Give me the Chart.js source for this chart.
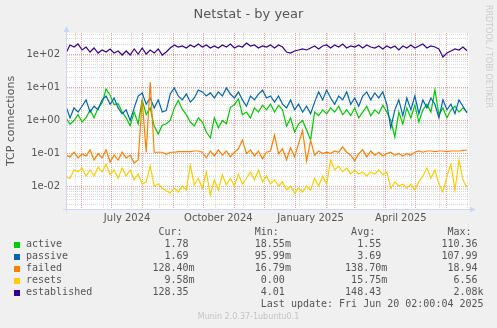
<!DOCTYPE html>
<html>
<head>
<meta charset="utf-8">
<title>Netstat - by year</title>
<script src="https://cdn.jsdelivr.net/npm/chart.js@4.4.1/dist/chart.umd.min.js"></script>
<style>
  html, body { margin: 0; padding: 0; background: #f0f0f0; }
  #graph { position: relative; width: 497px; height: 328px; overflow: hidden; }
  #graph canvas { position: absolute; left: 0; top: 0; }
  #title { position: absolute; left: 0; top: 6px; width: 497px; text-align: center;
           font: 13px "DejaVu Sans"; line-height: 15px; color: #555; }
  #legend { position: absolute; left: 26px; top: 226px; margin: 0;
            font: 10px "DejaVu Sans Mono"; line-height: 12px; color: #555; white-space: pre; }
  .swatch { position: absolute; left: 14px; width: 6px; height: 6px; }
  #version { position: absolute; left: 0; top: 312px; width: 497px; text-align: center;
             font: 8px "DejaVu Sans"; line-height: 10px; color: #c4c4c4; }
  #credit { position: absolute; left: 492px; top: 5px; white-space: nowrap;
            font: 8px "DejaVu Sans"; line-height: 8px; color: #cccccc;
            transform-origin: 0 0; transform: rotate(90deg); }
</style>
</head>
<body>
<div id="graph">
  <canvas id="netstat" width="497" height="328"></canvas>
  <div id="title">Netstat - by year</div>
  <pre id="legend"></pre>
  <div id="version">Munin 2.0.37-1ubuntu0.1</div>
  <div id="credit">RRDTOOL / TOBI OETIKER</div>
</div>
<script>
// one sample every 4 days, day 0 = 17 May 2024
const sampleStepDays = 4;

const active = [
  1.2, 0.78, 1.0, 1.5, 0.9, 1.2, 2.1, 1.2, 2.4, 3.4,
  9.0, 5.8, 3.0, 3.2, 1.8, 1.2, 0.7, 1.8, 0.8, 4.2,
  1.5, 2.4, 0.68, 0.39, 0.72, 0.8, 1.0, 2.4, 4.0, 2.2,
  1.5, 0.9, 0.68, 1.2, 0.9, 0.45, 0.3, 1.2, 0.6, 1.0,
  0.8, 2.5, 3.0, 4.5, 1.5, 1.8, 1.2, 2.4, 1.8, 2.9,
  2.1, 3.1, 1.8, 2.9, 2.1, 0.68, 1.2, 0.45, 0.78, 1.0,
  0.52, 0.26, 1.8, 1.4, 2.1, 1.6, 2.4, 1.8, 2.7, 1.5,
  2.1, 1.4, 2.4, 1.2, 1.8, 2.7, 1.4, 2.1, 1.6, 2.9,
  1.8, 1.0, 0.32, 1.8, 0.78, 2.4, 1.2, 2.9, 0.9, 2.1,
  3.1, 1.8, 8.3, 1.5, 2.4, 1.2, 2.1, 2.7, 1.8, 2.4,
  1.78
];
const passive = [
  2.7, 1.2, 2.4, 1.8, 2.7, 4.2, 1.8, 2.7, 2.1, 4.2,
  5.5, 3.1, 4.8, 2.4, 1.6, 2.1, 1.0, 2.4, 5.5, 6.8,
  3.1, 4.8, 2.4, 4.2, 1.8, 2.0, 6.3, 9.6, 5.5, 4.2,
  6.3, 3.6, 4.8, 8.3, 7.3, 5.5, 6.8, 4.8, 7.3, 5.5,
  9.6, 6.3, 4.8, 7.3, 4.2, 2.7, 5.5, 4.2, 6.3, 8.3,
  4.8, 5.5, 3.6, 5.5, 3.1, 2.4, 4.2, 2.1, 3.1, 1.8,
  2.7, 1.6, 3.6, 7.3, 4.2, 8.3, 4.8, 3.1, 5.5, 4.2,
  7.3, 3.1, 4.8, 2.7, 5.5, 7.3, 4.2, 6.8, 4.8, 7.3,
  3.1, 0.6, 2.1, 4.2, 1.4, 4.8, 2.1, 5.5, 1.6, 4.2,
  2.4, 4.8, 3.1, 1.2, 4.2, 2.1, 3.1, 1.6, 4.2, 2.7,
  1.69
];
const failed = [
  0.09, 0.079, 0.11, 0.074, 0.097, 0.085, 0.13, 0.064, 0.1, 0.074,
  0.13, 0.056, 0.09, 0.064, 0.11, 0.074, 0.09, 0.052, 0.064, 4.2,
  0.11, 14.5, 0.11, 0.11, 0.11, 0.095, 0.11, 0.11, 0.115, 0.115,
  0.115, 0.115, 0.12, 0.12, 0.11, 0.075, 0.12, 0.085, 0.13, 0.09,
  0.12, 0.08, 0.11, 0.14, 0.26, 0.1, 0.13, 0.085, 0.12, 0.07,
  0.11, 0.12, 0.36, 0.1, 0.14, 0.065, 0.15, 0.08, 0.2, 0.5,
  0.06, 0.25, 0.09, 0.12, 0.1, 0.11, 0.1, 0.12, 0.11, 0.16,
  0.11, 0.09, 0.06, 0.1, 0.13, 0.08, 0.12, 0.09, 0.11, 0.085,
  0.1, 0.11, 0.09, 0.1, 0.085, 0.1, 0.09, 0.11, 0.12, 0.11,
  0.12, 0.12, 0.115, 0.12, 0.12, 0.115, 0.12, 0.12, 0.12, 0.125,
  0.1284
];
const resets = [
  0.0196, 0.018, 0.032, 0.028, 0.037, 0.021, 0.032, 0.021, 0.039, 0.028,
  0.048, 0.023, 0.032, 0.018, 0.037, 0.021, 0.032, 0.016, 0.024, 0.012,
  0.014, 0.042, 0.0105, 0.012, 0.009, 0.0075, 0.0065, 0.009, 0.0069, 0.0105,
  0.0079, 0.045, 0.0113, 0.018, 0.009, 0.028, 0.0056, 0.016, 0.0079, 0.023,
  0.0113, 0.018, 0.0105, 0.024, 0.012, 0.018, 0.028, 0.016, 0.032, 0.014,
  0.021, 0.012, 0.016, 0.0105, 0.014, 0.0079, 0.0105, 0.0064, 0.009, 0.0069,
  0.0105, 0.0079, 0.018, 0.0105, 0.021, 0.012, 0.064, 0.032, 0.042, 0.028,
  0.037, 0.024, 0.032, 0.024, 0.028, 0.021, 0.028, 0.024, 0.032, 0.023,
  0.028, 0.009, 0.014, 0.0105, 0.012, 0.009, 0.012, 0.0079, 0.014, 0.021,
  0.037, 0.018, 0.032, 0.012, 0.0069, 0.021, 0.048, 0.0079, 0.064, 0.016,
  0.00958
];
const established = [
  109, 191, 166, 205, 135, 166, 117, 155, 109, 135,
  117, 145, 109, 126, 95, 126, 95, 145, 102, 155,
  102, 135, 109, 145, 95, 117, 155, 191, 166, 178,
  155, 191, 166, 205, 166, 191, 155, 178, 155, 191,
  166, 205, 155, 178, 166, 219, 178, 191, 155, 178,
  166, 191, 155, 191, 166, 117, 109, 126, 135, 145,
  135, 155, 178, 145, 178, 191, 155, 191, 166, 205,
  155, 178, 166, 191, 155, 191, 166, 155, 178, 145,
  178, 155, 178, 135, 178, 155, 191, 155, 178, 205,
  155, 178, 166, 145, 83, 109, 126, 145, 135, 166,
  128.35
];

const seriesNames = ['active', 'passive', 'failed', 'resets', 'established'];
const seriesColors = ['#00cc00', '#0066b3', '#ff8000', '#ffcc00', '#330099'];
const curValues = ['1.78', '1.69', '128.40m', '9.58m', '128.35'];
const minValues = ['18.55m', '95.99m', '16.79m', '0.00', '4.01'];
const avgValues = ['1.55', '3.69', '138.70m', '15.75m', '148.43'];
const maxValues = ['110.36', '107.99', '18.94', '6.56', '2.08k'];
const lastUpdate = 'Last update: Fri Jun 20 02:00:04 2025';

// x axis in days since 17 May 2024
const xMax = 402;
const monthStartDays = [15, 45, 76, 107, 137, 168, 198, 229, 260, 288, 319, 349, 380];
const minorGridDays = [9, 37, 65, 93, 121, 149, 177, 205, 233, 261, 289, 317, 345, 373, 401];
const xTickLabels = ['July 2024', 'October 2024', 'January 2025', 'April 2025'];
const xTickLabelDays = [61, 152, 244, 334];

const yMin = 0.00212;
const yMax = 440;
const yTickValues = [100, 10, 1, 0.1, 0.01];
const yTickLabels = ['1e+02', '1e+01', '1e+00', '1e-01', '1e-02'];

const MAJOR_GRID = 'rgba(235, 60, 60, 0.5)';
const MINOR_GRID = 'rgba(140, 140, 140, 0.3)';
const AXIS = '#cfd6f8';
const FONT = 'DejaVu Sans';

const xGrid = [];
minorGridDays.forEach(d => xGrid.push({ value: d, kind: 'minor', text: '' }));
monthStartDays.forEach(d => xGrid.push({ value: d, kind: 'major', text: '' }));
xTickLabelDays.forEach((d, i) => xGrid.push({ value: d, kind: 'label', text: xTickLabels[i] }));
xGrid.sort((a, b) => a.value - b.value);

const yGrid = yTickValues.map((v, i) => ({ value: v, kind: 'major', text: yTickLabels[i] }));
for (let k = -3; k <= 2; k++) {
  for (let n = 2; n <= 9; n++) {
    const v = n * Math.pow(10, k);
    if (v > yMin && v < yMax) yGrid.push({ value: v, kind: 'minor', text: '' });
  }
}
yGrid.sort((a, b) => a.value - b.value);

function gridColor(ctx) {
  const t = ctx.tick;
  if (!t) return 'rgba(0,0,0,0)';
  if (t.kind === 'major') return MAJOR_GRID;
  if (t.kind === 'minor') return MINOR_GRID;
  return 'rgba(0,0,0,0)';
}

const seriesValues = [active, passive, failed, resets, established];
const datasets = seriesValues.map((vals, s) => ({
  label: seriesNames[s],
  data: vals.map((v, i) => ({ x: i * sampleStepDays, y: v })),
  borderColor: seriesColors[s],
  backgroundColor: seriesColors[s],
  borderWidth: 1.2,
  pointRadius: 0,
  tension: 0,
  order: seriesValues.length - s,
}));

// white canvas behind the plot, rrdtool style arrows on the axes
const plotFrame = {
  id: 'plotFrame',
  beforeDraw(chart) {
    const { ctx, chartArea: a } = chart;
    ctx.save();
    ctx.fillStyle = '#ffffff';
    ctx.fillRect(a.left, a.top, a.right - a.left, a.bottom - a.top);
    ctx.restore();
  },
  afterDraw(chart) {
    const { ctx, chartArea: a } = chart;
    ctx.save();
    ctx.fillStyle = AXIS;
    ctx.strokeStyle = AXIS;
    ctx.lineWidth = 1;
    ctx.beginPath();
    ctx.moveTo(a.left + 0.5, a.bottom + 3);
    ctx.lineTo(a.left + 0.5, a.top - 2);
    ctx.moveTo(a.left - 3, a.bottom + 0.5);
    ctx.lineTo(a.right + 2, a.bottom + 0.5);
    ctx.stroke();
    ctx.beginPath();
    ctx.moveTo(a.left - 2.5, a.top - 1);
    ctx.lineTo(a.left + 3.5, a.top - 1);
    ctx.lineTo(a.left + 0.5, a.top - 7);
    ctx.closePath();
    ctx.fill();
    ctx.beginPath();
    ctx.moveTo(a.right + 1, a.bottom - 2.5);
    ctx.lineTo(a.right + 1, a.bottom + 3.5);
    ctx.lineTo(a.right + 7, a.bottom + 0.5);
    ctx.closePath();
    ctx.fill();
    ctx.restore();
  },
};

new Chart(document.getElementById('netstat'), {
  type: 'line',
  data: { datasets },
  plugins: [plotFrame],
  options: {
    responsive: false,
    animation: false,
    devicePixelRatio: 1,
    layout: { padding: { left: 0, right: 28, top: 33, bottom: 99 } },
    plugins: {
      legend: { display: false },
      tooltip: { enabled: false },
      title: { display: false },
    },
    scales: {
      x: {
        type: 'linear',
        min: 0,
        max: xMax,
        afterBuildTicks(scale) { scale.ticks = xGrid.map(t => ({ ...t })); },
        afterFit(scale) { scale.height = 20; },
        grid: { drawTicks: false, color: gridColor, lineWidth: 1 },
        border: { color: AXIS, dash: [1, 1] },
        ticks: {
          autoSkip: false,
          maxRotation: 0,
          padding: 3,
          color: '#555',
          font: { family: FONT, size: 10 },
          callback: (v, i, ticks) => ticks[i].text,
        },
      },
      y: {
        type: 'logarithmic',
        min: yMin,
        max: yMax,
        afterBuildTicks(scale) { scale.ticks = yGrid.map(t => ({ ...t })); },
        afterFit(scale) { scale.width = 66; },
        grid: { drawTicks: false, color: gridColor, lineWidth: 1 },
        border: { color: AXIS, dash: [1, 1] },
        ticks: {
          autoSkip: false,
          padding: 6,
          color: '#555',
          font: { family: FONT, size: 10 },
          callback: (v, i, ticks) => ticks[i].text,
        },
        title: {
          display: true,
          text: 'TCP connections',
          color: '#555',
          font: { family: FONT, size: 11 },
          padding: { top: 4.4, bottom: 0 },
        },
      },
    },
  },
});

// legend table with the summary columns
const unitPad = s => (/[a-z]$/.test(s) ? s : s + ' ').padStart(7);
const lines = [];
lines.push(''.padEnd(22) + 'Cur:'.padEnd(16) + 'Min:'.padEnd(16) + 'Avg:'.padEnd(16) + 'Max:');
seriesNames.forEach((name, i) => {
  lines.push(name.padEnd(21) +
    [curValues[i], minValues[i], avgValues[i], maxValues[i]].map(unitPad).join(' '.repeat(9)));
});
lines.push(''.padEnd(39) + lastUpdate);
document.getElementById('legend').textContent = lines.join('\n');

const graph = document.getElementById('graph');
seriesColors.forEach((c, i) => {
  const sw = document.createElement('div');
  sw.className = 'swatch';
  sw.style.top = (242 + 12 * i) + 'px';
  sw.style.background = c;
  graph.appendChild(sw);
});
</script>
</body>
</html>
